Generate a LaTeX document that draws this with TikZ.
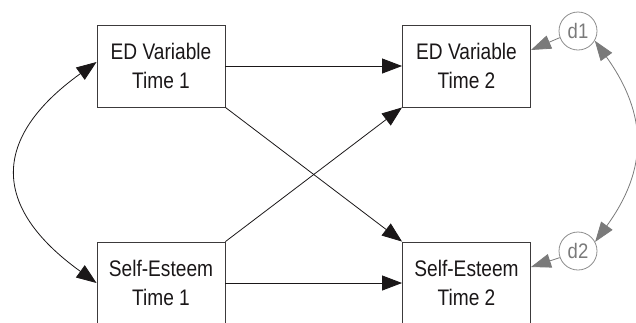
\documentclass[tikz,border=0pt]{standalone}
\usepackage{fontspec}
\setmainfont[FakeStretch=0.85]{Liberation Sans}
\newfontfamily\dfont[FakeStretch=0.88]{Liberation Sans}
\usetikzlibrary{arrows.meta}
\definecolor{ink}{HTML}{1A1718}
\definecolor{gline}{HTML}{7A7A7A}
\definecolor{gcirc}{HTML}{8C8C8C}
\begin{document}
\begin{tikzpicture}[x=1pt,y=1pt,
  varbox/.style={draw=ink!85, line width=0.9pt, minimum width=128pt, minimum height=82pt,
    inner sep=0pt, align=center, text=ink, font=\fontsize{22.5}{29}\selectfont},
  errc/.style={draw=gcirc, line width=0.8pt, circle, minimum size=38pt, inner sep=0pt,
    text=gline, font=\dfont\fontsize{21}{21}\selectfont},
  blk/.style={draw=ink, line width=0.8pt, -{Triangle[length=20pt,width=15pt]}},
  blkboth/.style={draw=ink, line width=0.8pt, {Triangle[length=20pt,width=15pt]}-{Triangle[length=20pt,width=15pt]}},
  gry/.style={draw=gline, line width=0.8pt, -{Triangle[length=20pt,width=14pt]}, color=gline},
  gryboth/.style={draw=gline, line width=0.8pt, {Triangle[length=20pt,width=14pt]}-{Triangle[length=20pt,width=14pt]}, color=gline}]
\useasboundingbox (0,0) rectangle (636,-322);
\node[varbox] (e1) at (161,-66) {ED Variable\\Time 1};
\node[varbox] (e2) at (466.5,-66) {ED Variable\\Time 2};
\node[varbox] (s1) at (161,-283) {Self-Esteem\\Time 1};
\node[varbox] (s2) at (466.5,-283) {Self-Esteem\\Time 2};
\node[errc] (d1) at (578,-31) {d1};
\node[errc] (d2) at (578,-251) {d2};
% paths
\draw[blk] (e1.east) -- (e2.west);
\draw[blk] (s1.east) -- (s2.west);
\draw[blk] (e1.south east) -- (s2.north west);
\draw[blk] (s1.north east) -- (e2.south west);
\draw[blkboth] ([yshift=4pt]e1.west) .. controls (-9,-138) and (-9,-207) .. (s1.west);
% residuals
\draw[gry] (d1.200) -- ([yshift=16pt]e2.east);
\draw[gry] (d2.200) -- ([yshift=16pt]s2.east);
\draw[gryboth] (d1.-30) .. controls (648,-115) and (648,-169) .. (d2.28);
\end{tikzpicture}
\end{document}
